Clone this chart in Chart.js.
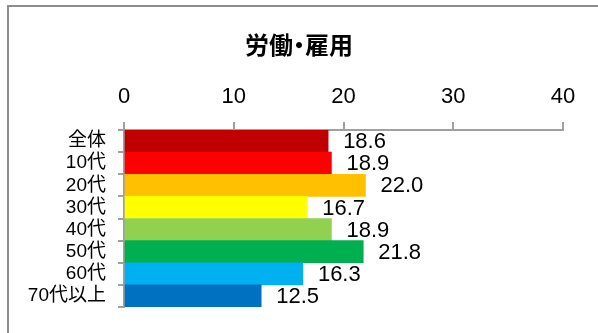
<!DOCTYPE html>
<html>
<head>
<meta charset="utf-8">
<script src="https://cdn.jsdelivr.net/npm/chart.js@4"></script>
<style>
  html, body { margin: 0; padding: 0; background: #fff; }
  #wrap { position: relative; width: 598px; height: 333px; overflow: hidden; }
  #frame { position: absolute; left: 7px; top: 5px; width: 700px; height: 400px;
           border-left: 2px solid #8c8c8c; border-top: 2px solid #8c8c8c; box-sizing: border-box; }
  canvas { position: absolute; left: 0; top: 0; }
</style>
</head>
<body>
<div id="wrap">
  <div id="frame"></div>
  <canvas id="c" width="598" height="333"></canvas>
</div>
<script>
const titleText = "労働・雇用";
const categories = ["全体", "10代", "20代", "30代", "40代", "50代", "60代", "70代以上"];
const values = [18.6, 18.9, 22.0, 16.7, 18.9, 21.8, 16.3, 12.5];
const barColors = ["#C00000", "#FF0000", "#FFC000", "#FFFF00", "#92D050", "#00B050", "#00B0F0", "#0070C0"];
const xTicks = [0, 10, 20, 30, 40];

const latinFont = "'Liberation Sans', 'Noto Sans CJK JP', sans-serif";

// Title drawn as real text; the middle dot "・" gets a narrow slot as in the reference.
const titlePlugin = {
  id: 'customTitle',
  afterDraw(chart) {
    const ctx = chart.ctx;
    ctx.save();
    ctx.font = "bold 24px 'Noto Sans CJK JP', sans-serif";
    ctx.fillStyle = "#000";
    ctx.textBaseline = "middle";
    ctx.textAlign = "left";
    const chars = Array.from(titleText);
    const dotSlot = 12;
    const widths = chars.map(ch => ch === "・" ? dotSlot : ctx.measureText(ch).width);
    const total = widths.reduce((a, b) => a + b, 0);
    let x = chart.width / 2 - total / 2;
    const y = 45;
    chars.forEach((ch, i) => {
      if (ch === "・") {
        ctx.textAlign = "center";
        ctx.fillText(ch, x + dotSlot / 2, y);
        ctx.textAlign = "left";
      } else {
        ctx.fillText(ch, x, y);
      }
      x += widths[i];
    });
    ctx.restore();
  }
};

const valueLabels = {
  id: 'valueLabels',
  afterDatasetsDraw(chart) {
    const ctx = chart.ctx;
    const meta = chart.getDatasetMeta(0);
    ctx.save();
    ctx.font = "22px " + latinFont;
    ctx.fillStyle = "#000";
    ctx.textAlign = "left";
    ctx.textBaseline = "middle";
    meta.data.forEach((bar, i) => {
      ctx.fillText(values[i].toFixed(1), bar.x + 15, bar.y + 1);
    });
    ctx.restore();
  }
};

new Chart(document.getElementById('c'), {
  type: 'bar',
  data: {
    labels: categories,
    datasets: [{
      data: values,
      backgroundColor: barColors,
      borderWidth: 0,
      categoryPercentage: 1.0,
      barPercentage: 1.0
    }]
  },
  options: {
    indexAxis: 'y',
    responsive: false,
    animation: false,
    layout: { padding: { top: 60, right: 35, bottom: 26, left: 0 } },
    plugins: {
      legend: { display: false },
      title: { display: false },
      tooltip: { enabled: false }
    },
    scales: {
      x: {
        position: 'top',
        min: 0, max: 40,
        afterBuildTicks(scale) { scale.ticks = xTicks.map(v => ({ value: v })); },
        afterFit(scale) { scale.height = 70; },
        ticks: {
          color: '#000',
          padding: 12,
          font: { size: 22, family: latinFont }
        },
        grid: {
          drawOnChartArea: false,
          drawTicks: true,
          tickLength: 8,
          color: '#a0a0a0',
          lineWidth: 2
        },
        border: { display: true, color: '#a0a0a0', width: 2 }
      },
      y: {
        afterFit(scale) { scale.width = 124; },
        ticks: {
          color: '#000',
          padding: 12,
          autoSkip: false,
          font: { size: 19, family: latinFont }
        },
        grid: {
          drawOnChartArea: false,
          drawTicks: true,
          tickLength: 6,
          offset: true,
          color: '#a0a0a0',
          lineWidth: 2
        },
        border: { display: true, color: '#a0a0a0', width: 2 }
      }
    }
  },
  plugins: [titlePlugin, valueLabels]
});
</script>
</body>
</html>
